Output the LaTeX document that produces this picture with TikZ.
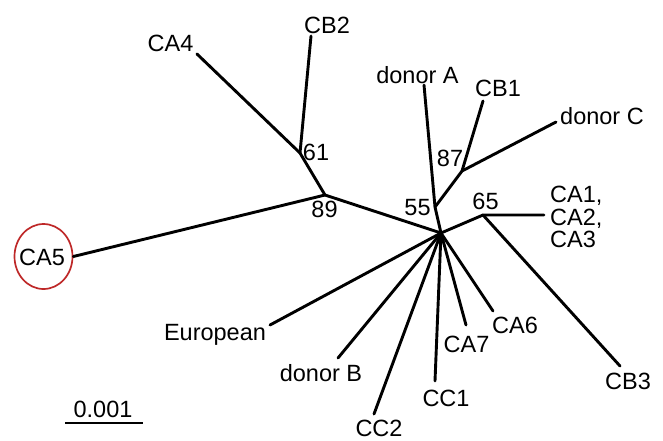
\documentclass[tikz,border=0pt]{standalone}
\usepackage{fontspec}
\setmainfont{Liberation Sans}
\usetikzlibrary{shapes.geometric}
\definecolor{circred}{RGB}{190,40,40}
\begin{document}
\begin{tikzpicture}[x=1pt,y=-1pt,
  br/.style={line width=2.9pt,line cap=round,line join=round},
  lbl/.style={inner sep=0pt,anchor=base,font=\fontsize{23.5}{26}\selectfont}]
\useasboundingbox (0,0) rectangle (663,440);
% internal nodes
\coordinate (H) at (441,233);
\coordinate (n55) at (435,207);
\coordinate (n87) at (462,171);
\coordinate (n65) at (483,215);
\coordinate (n89) at (325,195);
\coordinate (n61) at (300,153);
% leaf ends
\coordinate (eCA4) at (197,54);
\coordinate (eCB2) at (311,36);
\coordinate (eDA) at (424,85);
\coordinate (eCB1) at (483,101);
\coordinate (eDC) at (556,122);
\coordinate (eCA1) at (544,215);
\coordinate (eCB3) at (620,366);
\coordinate (eCA6) at (493,311);
\coordinate (eCA7) at (466,325);
\coordinate (eCC1) at (435,381);
\coordinate (eCC2) at (374,414);
\coordinate (eDB) at (338,358);
\coordinate (eEU) at (270,325);
% CA5 circle
\node[draw=circred,line width=1.7pt,ellipse,minimum width=58pt,minimum height=65pt,inner sep=0pt] (cCA5) at (43.5,256.5) {};
\node[lbl] (tCA5) at (42,265) {CA5};
% branches
\draw[br] (H) -- (n55) -- (eDA);
\draw[br] (n55) -- (n87) -- (eCB1);
\draw[br] (n87) -- (eDC);
\draw[br] (H) -- (n65) -- (eCA1);
\draw[br] (n65) -- (eCB3);
\draw[br] (H) -- (n89) -- (n61) -- (eCA4);
\draw[br] (n61) -- (eCB2);
\draw[br] (n89) -- (cCA5.east);
\draw[br] (H) -- (eCA6);
\draw[br] (H) -- (eCA7);
\draw[br] (H) -- (eCC1);
\draw[br] (H) -- (eCC2);
\draw[br] (H) -- (eDB);
\draw[br] (H) -- (eEU);
% leaf labels
\node[lbl] (tCA4) at (170.5,51) {CA4};
\node[lbl] (tCB2) at (327,33) {CB2};
\node[lbl] (tDA) at (417.5,83) {donor A};
\node[lbl] (tCB1) at (498,96) {CB1};
\node[lbl] (tDC) at (602,124) {donor C};
\node[lbl,anchor=base west] (tCA1) at (550,202.5) {CA1,};
\node[lbl,anchor=base west] (tCA2) at (550,225) {CA2,};
\node[lbl,anchor=base west] (tCA3) at (550,247.5) {CA3};
\node[lbl] (tCB3) at (628,389) {CB3};
\node[lbl] (tCA6) at (515,333) {CA6};
\node[lbl] (tCA7) at (466.5,352) {CA7};
\node[lbl] (tCC1) at (446,406) {CC1};
\node[lbl] (tCC2) at (379,436) {CC2};
\node[lbl] (tDB) at (321,381) {donor B};
\node[lbl] (tEU) at (215,340) {European};
% bootstrap values
\node[lbl] (b65) at (485.5,209) {65};
\node[lbl] (b87) at (450,166) {87};
\node[lbl] (b55) at (417.5,215) {55};
\node[lbl] (b61) at (316,160) {61};
\node[lbl] (b89) at (324.5,217) {89};
% scale bar
\node[lbl] (tsc) at (103,417) {0.001};
\coordinate (s1) at (65,423);
\coordinate (s2) at (143,423);
\draw[line width=2.9pt] (s1) -- (s2);
\end{tikzpicture}
\end{document}
